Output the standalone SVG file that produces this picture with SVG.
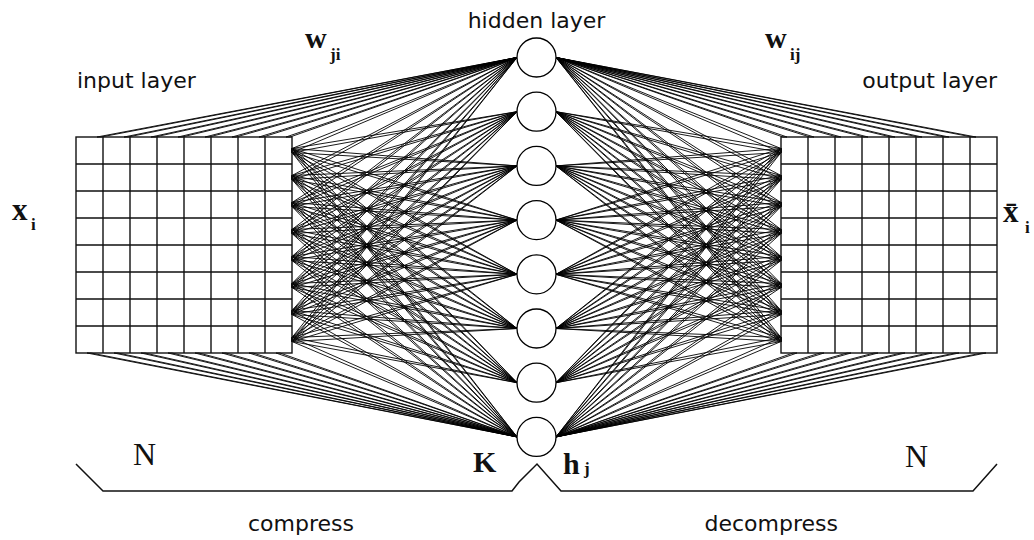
<svg xmlns="http://www.w3.org/2000/svg" xmlns:xlink="http://www.w3.org/1999/xlink" width="1034" height="540" viewBox="0 0 1034 540">
<style>
.grid{fill:none;stroke:#111;stroke-width:1.4}
.c{fill:none;stroke:#000;stroke-width:0.9;stroke-linejoin:round}
.node{fill:#fff;stroke:#000;stroke-width:1.3}
.lbl{font-family:"DejaVu Sans",Verdana,sans-serif;font-size:22px;fill:#111}
.m{font-family:"Liberation Serif","Times New Roman",serif;font-weight:bold;fill:#111}
.mr{font-family:"Liberation Serif","Times New Roman",serif;fill:#111}
.br{fill:none;stroke:#111;stroke-width:1.5}
</style>
<rect width="1034" height="540" fill="#fff"/>
<g id="connectors">
<g id="fan-left">
<polyline class="c" points="517,57.5 97,137 101,137 517,57.5 124,137 128,137 517,57.5 151,137 155,137 517,57.5 178,137 182,137 517,57.5 205,137 209,137 517,57.5 232,137 236,137 517,57.5 259,137 263,137 517,57.5 286,137 290,137 517,57.5"/>
<polyline class="c" points="517,436.9 87,353 91,353 517,436.9 114,353 118,353 517,436.9 141,353 145,353 517,436.9 168,353 172,353 517,436.9 195,353 199,353 517,436.9 222,353 226,353 517,436.9 249,353 253,353 517,436.9 276,353 280,353 517,436.9"/>
<polyline class="c" points="517,57.5 292,148.5 292,152.5 517,57.5 292,175.5 292,179.5 517,57.5 292,202.5 292,206.5 517,57.5 292,229.5 292,233.5 517,57.5 292,256.5 292,260.5 517,57.5 292,283.5 292,287.5 517,57.5 292,310.5 292,314.5 517,57.5 292,337.5 292,341.5 517,57.5"/>
<polyline class="c" points="517,111.7 292,148.5 292,152.5 517,111.7 292,175.5 292,179.5 517,111.7 292,202.5 292,206.5 517,111.7 292,229.5 292,233.5 517,111.7 292,256.5 292,260.5 517,111.7 292,283.5 292,287.5 517,111.7 292,310.5 292,314.5 517,111.7 292,337.5 292,341.5 517,111.7"/>
<polyline class="c" points="517,165.9 292,148.5 292,152.5 517,165.9 292,175.5 292,179.5 517,165.9 292,202.5 292,206.5 517,165.9 292,229.5 292,233.5 517,165.9 292,256.5 292,260.5 517,165.9 292,283.5 292,287.5 517,165.9 292,310.5 292,314.5 517,165.9 292,337.5 292,341.5 517,165.9"/>
<polyline class="c" points="517,220.1 292,148.5 292,152.5 517,220.1 292,175.5 292,179.5 517,220.1 292,202.5 292,206.5 517,220.1 292,229.5 292,233.5 517,220.1 292,256.5 292,260.5 517,220.1 292,283.5 292,287.5 517,220.1 292,310.5 292,314.5 517,220.1 292,337.5 292,341.5 517,220.1"/>
<polyline class="c" points="517,274.3 292,148.5 292,152.5 517,274.3 292,175.5 292,179.5 517,274.3 292,202.5 292,206.5 517,274.3 292,229.5 292,233.5 517,274.3 292,256.5 292,260.5 517,274.3 292,283.5 292,287.5 517,274.3 292,310.5 292,314.5 517,274.3 292,337.5 292,341.5 517,274.3"/>
<polyline class="c" points="517,328.5 292,148.5 292,152.5 517,328.5 292,175.5 292,179.5 517,328.5 292,202.5 292,206.5 517,328.5 292,229.5 292,233.5 517,328.5 292,256.5 292,260.5 517,328.5 292,283.5 292,287.5 517,328.5 292,310.5 292,314.5 517,328.5 292,337.5 292,341.5 517,328.5"/>
<polyline class="c" points="517,382.7 292,148.5 292,152.5 517,382.7 292,175.5 292,179.5 517,382.7 292,202.5 292,206.5 517,382.7 292,229.5 292,233.5 517,382.7 292,256.5 292,260.5 517,382.7 292,283.5 292,287.5 517,382.7 292,310.5 292,314.5 517,382.7 292,337.5 292,341.5 517,382.7"/>
<polyline class="c" points="517,436.9 292,148.5 292,152.5 517,436.9 292,175.5 292,179.5 517,436.9 292,202.5 292,206.5 517,436.9 292,229.5 292,233.5 517,436.9 292,256.5 292,260.5 517,436.9 292,283.5 292,287.5 517,436.9 292,310.5 292,314.5 517,436.9 292,337.5 292,341.5 517,436.9"/>
</g>
<use id="fan-right" xlink:href="#fan-left" href="#fan-left" transform="matrix(-1 0 0 1 1073 0)"/>
</g>
<g id="input-layer">
<rect class="grid" x="76" y="137" width="216" height="216"/>
<path class="grid" d="M103 137V353M130 137V353M157 137V353M184 137V353M211 137V353M238 137V353M265 137V353M76 164H292M76 191H292M76 218H292M76 245H292M76 272H292M76 299H292M76 326H292"/>
</g>
<g id="output-layer">
<rect class="grid" x="781" y="137" width="216" height="216"/>
<path class="grid" d="M808 137V353M835 137V353M862 137V353M889 137V353M916 137V353M943 137V353M970 137V353M781 164H997M781 191H997M781 218H997M781 245H997M781 272H997M781 299H997M781 326H997"/>
</g>
<g id="hidden-1"><circle class="node" cx="536.5" cy="57.5" r="19.5"/></g>
<g id="hidden-2"><circle class="node" cx="536.5" cy="111.7" r="19.5"/></g>
<g id="hidden-3"><circle class="node" cx="536.5" cy="165.9" r="19.5"/></g>
<g id="hidden-4"><circle class="node" cx="536.5" cy="220.1" r="19.5"/></g>
<g id="hidden-5"><circle class="node" cx="536.5" cy="274.3" r="19.5"/></g>
<g id="hidden-6"><circle class="node" cx="536.5" cy="328.5" r="19.5"/></g>
<g id="hidden-7"><circle class="node" cx="536.5" cy="382.7" r="19.5"/></g>
<g id="hidden-8"><circle class="node" cx="536.5" cy="436.9" r="19.5"/></g>
<g id="bracket">
<polyline class="br" points="76,464 103,491 512,491 519,482 537,464 561,491 973,491 997,464"/>
</g>
<g id="labels">
<text class="lbl" x="536.5" y="28" text-anchor="middle">hidden layer</text>
<text class="lbl" x="77" y="88">input layer</text>
<text class="lbl" x="997" y="88" text-anchor="end">output layer</text>
<text class="lbl" x="248" y="531">compress</text>
<text class="lbl" x="838" y="531" text-anchor="end">decompress</text>
<text class="m" x="305" y="48" font-size="30">w</text>
<text class="m" x="330" y="60" font-size="17">ji</text>
<text class="m" x="765" y="48" font-size="30">w</text>
<text class="m" x="790" y="60" font-size="17">ij</text>
<text class="m" x="12" y="220" font-size="31">x</text>
<text class="m" x="31" y="230" font-size="17">i</text>
<text class="m" x="1003" y="222" font-size="31">x̄</text>
<text class="m" x="1025" y="233" font-size="17">i</text>
<text class="mr" x="133" y="465" font-size="32">N</text>
<text class="mr" x="905" y="467" font-size="32">N</text>
<text class="m" x="473" y="472" font-size="30">K</text>
<text class="m" x="563" y="474" font-size="30">h</text>
<text class="m" x="584" y="474" font-size="17">j</text>
</g>
</svg>
